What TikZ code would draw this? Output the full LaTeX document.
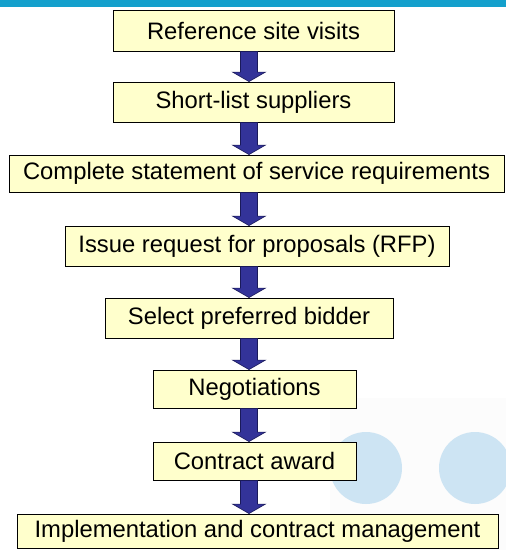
\documentclass[tikz,border=0pt]{standalone}
\usepackage{fontspec}
\setmainfont{Liberation Sans}
\usetikzlibrary{calc}

\definecolor{barblue}{RGB}{20,160,204}
\definecolor{boxfill}{RGB}{255,255,204}
\definecolor{arrowblue}{RGB}{51,51,153}
\definecolor{arrowedge}{RGB}{26,26,90}
\definecolor{dotblue}{RGB}{205,228,243}
\definecolor{haze}{RGB}{252,252,252}

\tikzset{
  stepbox/.style={draw=black, line width=0.9pt, fill=boxfill, rectangle,
    inner sep=0pt, font=\fontsize{23.8}{28}\selectfont},
  blockarr/.style={fill=arrowblue, draw=arrowedge, line width=0.6pt, line join=miter}
}

% block arrow from the bottom of one box to the top of the next, on the common axis
\newcommand\flowarrow[2]{%
  \draw[blockarr] let \p1=(#1.south), \p2=(#2.north), \p3=(axis) in
    (\x3-8.5pt,\y1) -- (\x3+8.5pt,\y1) -- (\x3+8.5pt,\y2+9.5pt)
    -- (\x3+16.5pt,\y2+9.5pt) -- (\x3,\y2) -- (\x3-16.5pt,\y2+9.5pt)
    -- (\x3-8.5pt,\y2+9.5pt) -- cycle;}

\begin{document}
\begin{tikzpicture}[x=1pt, y=-1pt]
  \useasboundingbox (0,0) rectangle (506,550);
  \fill[white] (0,0) rectangle (506,550);

  % header bar and decorative discs
  \fill[barblue] (0,0) rectangle (506,6.5);
  \fill[haze] (330,398) rectangle (506,550);
  \fill[dotblue] (366,468) circle (36);
  \fill[dotblue] (475,468) circle (36);

  \coordinate (axis) at (249,0);

  \node[stepbox, minimum width=281pt, minimum height=41pt] (n1) at (253.5,30.5) {Reference site visits};
  \node[stepbox, minimum width=281pt, minimum height=40pt] (n2) at (253.5,102) {Short-list suppliers};
  \node[stepbox, minimum width=495pt, minimum height=37pt] (n3) at (256.5,173.5) {Complete statement of service requirements};
  \node[stepbox, minimum width=384pt, minimum height=40pt] (n4) at (257,246) {Issue request for proposals (RFP)};
  \node[stepbox, minimum width=288pt, minimum height=40pt] (n5) at (249,318) {Select preferred bidder};
  \node[stepbox, minimum width=203pt, minimum height=38pt] (n6) at (254.5,389) {Negotiations};
  \node[stepbox, minimum width=203pt, minimum height=38pt] (n7) at (254.5,461) {Contract award};
  \node[stepbox, minimum width=481pt, minimum height=34pt] (n8) at (257.5,531) {Implementation and contract management};

  \flowarrow{n1}{n2}
  \flowarrow{n2}{n3}
  \flowarrow{n3}{n4}
  \flowarrow{n4}{n5}
  \flowarrow{n5}{n6}
  \flowarrow{n6}{n7}
  \flowarrow{n7}{n8}
\end{tikzpicture}
\end{document}
